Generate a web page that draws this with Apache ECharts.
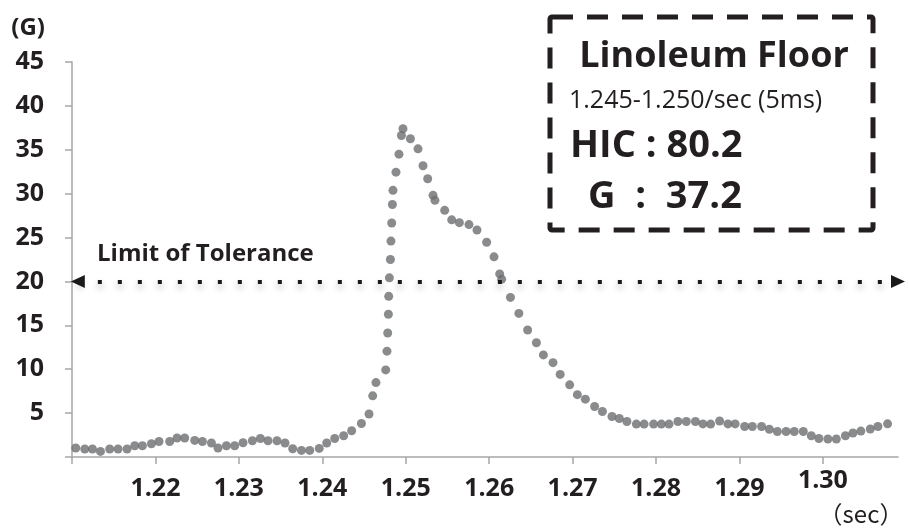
<!DOCTYPE html>
<html>
<head>
<meta charset="utf-8">
<script src="https://cdn.jsdelivr.net/npm/echarts@6.0.0/dist/echarts.min.js"></script>
<style>
html,body{margin:0;padding:0;background:#fff;}
#chart{width:909px;height:528px;}
</style>
</head>
<body>
<div id="chart"></div>
<script>
// time (sec) of each dot
var times = [1.21045,1.21153,1.21245,1.21341,1.21452,1.21552,1.2166,1.21752,1.21844,1.21952,
    1.22043,1.22171,1.22259,1.22351,1.22471,1.22563,1.22671,1.2275,1.22851,1.2295,
    1.2305,1.23162,1.23258,1.23349,1.23457,1.23553,1.23645,1.2375,1.23849,1.23963,
    1.24053,1.24149,1.24256,1.24352,1.24469,1.2456,1.24604,1.24643,1.2476,1.24775,
    1.24784,1.24792,1.24796,1.24804,1.24816,1.24823,1.24832,1.2484,1.24847,1.24883,
    1.24919,1.24948,1.24967,1.25056,1.25147,1.25207,1.25263,1.25327,1.2535,1.25467,
    1.25551,1.25643,1.25758,1.25854,1.2597,1.26058,1.26126,1.2615,1.26255,1.26356,
    1.26461,1.26566,1.2665,1.26765,1.26851,1.26965,1.27057,1.27153,1.27264,1.27357,
    1.27472,1.2756,1.27651,1.27764,1.27857,1.27971,1.28064,1.28155,1.28262,1.28363,
    1.28472,1.28562,1.28654,1.28762,1.28862,1.28948,1.29062,1.29154,1.29265,1.29358,
    1.29454,1.29559,1.29657,1.29765,1.29861,1.29952,1.3006,1.30161,1.3027,1.3036,
    1.30455,1.30568,1.30659,1.30775];
// acceleration (G)
var gValues = [1.02,0.91,0.91,0.64,0.91,0.91,0.91,1.28,1.28,1.51,
    1.77,1.77,2.16,2.16,1.89,1.77,1.59,1.02,1.28,1.28,
    1.62,1.85,2.11,1.85,1.85,1.59,0.94,0.75,0.75,0.98,
    1.59,2.11,2.42,2.99,3.82,4.9,6.97,8.48,9.92,12.06,
    14.13,16.26,18.3,20.41,22.5,24.6,26.66,28.76,30.38,32.45,
    34.5,36.63,37.39,36.25,35.11,33.18,31.7,29.81,29.24,28.1,
    27.02,26.7,26.48,25.86,24.47,22.8,20.86,20.26,18.18,16.36,
    14.47,13.02,11.63,10.75,9.41,8.22,7.1,6.59,5.75,5.18,
    4.61,4.38,4.05,3.75,3.75,3.75,3.75,3.75,4.05,4.05,
    4.05,3.77,3.75,4.1,3.77,3.77,3.48,3.48,3.48,3.16,
    2.91,2.91,2.91,2.91,2.42,2.11,2.05,2.05,2.42,2.73,
    2.95,3.19,3.48,3.78];

var xTicks = [1.21,1.22,1.23,1.24,1.25,1.26,1.27,1.28,1.29,1.30];
var xLabels = [1.22,1.23,1.24,1.25,1.26,1.27,1.28,1.29,1.30];
var limitG = 20;

var points = [];
for (var i = 0; i < times.length; i++) {
    points.push([times[i], gValues[i]]);
}

var FONT = '"Open Sans", "Noto Sans", sans-serif';
var dark = '#231f20';

var myChart = echarts.init(document.getElementById('chart'));
myChart.setOption({
    backgroundColor: '#fff',
    animation: false,
    grid: {
        left: 72,
        right: 11,
        top: 62,
        bottom: 71
    },
    xAxis: {
        type: 'value',
        min: 1.21,
        max: 1.309,
        interval: 0.01,
        splitLine: {show: false},
        axisLine: {lineStyle: {color: '#a6a6a6', width: 1.5}},
        axisTick: {
            length: 7,
            customValues: xTicks,
            lineStyle: {color: '#a6a6a6', width: 1.5}
        },
        axisLabel: {
            customValues: xLabels,
            margin: 19,
            color: dark,
            fontFamily: FONT,
            fontWeight: 'bold',
            fontSize: 25,
            formatter: function (v) {
                var s = v.toFixed(2);
                // last label sits a little higher
                if (s === '1.30') return '{up|' + s + '}';
                return s;
            },
            rich: {
                up: {
                    color: dark,
                    fontFamily: FONT,
                    fontWeight: 'bold',
                    fontSize: 25,
                    lineHeight: 10
                }
            }
        }
    },
    yAxis: {
        type: 'value',
        min: 0,
        max: 45,
        interval: 5,
        splitLine: {show: false},
        axisLine: {show: true, lineStyle: {color: '#a6a6a6', width: 1.5}},
        axisTick: {show: true, length: 7, lineStyle: {color: '#a6a6a6', width: 1.5}},
        axisLabel: {
            margin: 28,
            color: dark,
            fontFamily: FONT,
            fontWeight: 'bold',
            fontSize: 25,
            formatter: function (v) {
                return v === 0 ? '' : v;
            }
        }
    },
    series: [{
        type: 'scatter',
        data: points,
        symbol: 'circle',
        symbolSize: 9,
        itemStyle: {color: '#6d6e71'},
        silent: true,
        markLine: {
            silent: true,
            symbol: ['triangle', 'triangle'],
            symbolSize: [13, 14],
            label: {show: false},
            lineStyle: {
                color: '#1a1a1a',
                width: 4,
                type: [4, 16],
                shadowColor: 'rgba(0,0,0,0.35)',
                shadowBlur: 6,
                shadowOffsetY: 4
            },
            data: [[{coord: [1.2107, limitG]}, {coord: [1.309, limitG]}]]
        }
    }],
    graphic: [
        {
            type: 'text',
            style: {text: '(G)', x: 45, y: 28, align: 'right', verticalAlign: 'middle',
                font: 'bold 24px ' + FONT, fill: dark}
        },
        {
            type: 'text',
            style: {text: '（sec）', x: 861, y: 514, align: 'center', verticalAlign: 'middle',
                font: '24px "Noto Sans CJK JP"', fill: dark}
        },
        {
            type: 'text',
            style: {text: 'Limit of Tolerance', x: 97, y: 254, align: 'left', verticalAlign: 'middle',
                font: 'bold 24px ' + FONT, fill: dark}
        },
        {
            type: 'rect',
            shape: {x: 550, y: 17, width: 323, height: 213, r: 2},
            style: {fill: 'none', stroke: dark, lineWidth: 5, lineDash: [21, 14]}
        },
        {
            type: 'text',
            style: {text: 'Linoleum Floor', x: 714, y: 57, align: 'center', verticalAlign: 'middle',
                font: 'bold 36px ' + FONT, fill: dark}
        },
        {
            type: 'text',
            style: {text: '1.245-1.250/sec (5ms)', x: 569, y: 101, align: 'left', verticalAlign: 'middle',
                font: '25px ' + FONT, fill: dark}
        },
        {
            type: 'text',
            style: {text: 'HIC : 80.2', x: 570, y: 146, align: 'left', verticalAlign: 'middle',
                font: 'bold 38px ' + FONT, fill: dark}
        },
        {
            type: 'text',
            style: {text: 'G  :  37.2', x: 588, y: 197, align: 'left', verticalAlign: 'middle',
                font: 'bold 38px ' + FONT, fill: dark}
        }
    ]
});
</script>
</body>
</html>
